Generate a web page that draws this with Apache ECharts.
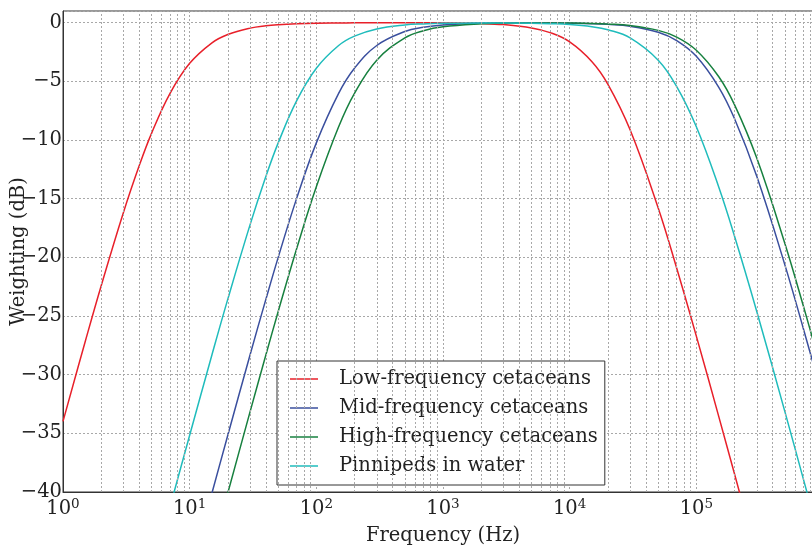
<!DOCTYPE html>
<html>
<head>
<meta charset="utf-8">
<script src="https://cdn.jsdelivr.net/npm/echarts@6/dist/echarts.min.js"></script>
<style>
  html, body { margin: 0; padding: 0; background: #fff; }
  #chart { width: 812px; height: 545px; }
</style>
</head>
<body>
<div id="chart"></div>
<script>
// frequency samples (Hz)
var freqs = [1, 1.5, 2, 3, 4, 5, 7, 10, 15, 20, 30, 40, 50, 70, 100, 150, 200, 300, 500, 700,
    1000, 2000, 3000, 5000, 7000, 10000, 15000, 20000, 30000, 50000, 70000, 100000, 150000,
    200000, 300000, 500000, 700000, 1000000];

// weighting in dB, one value per frequency above
var lowFreq = [-33.98, -27.15, -22.44, -16.18, -12.18, -9.43, -6.02, -3.46, -1.71, -1.00, -0.46,
    -0.26, -0.17, -0.09, -0.04, -0.02, -0.01, -0.01, -0.01, -0.01, -0.02, -0.07, -0.16, -0.44,
    -0.84, -1.63, -3.32, -5.23, -9.13, -15.80, -20.93, -26.71, -33.53, -38.45, -45.43, null, null, null];
var midFreq = [null, null, null, null, null, null, null, -47.08, -40.09, -35.16, -28.30, -23.56,
    -20.00, -14.95, -10.24, -6.02, -3.88, -1.94, -0.75, -0.39, -0.19, -0.05, -0.03, -0.02, -0.02,
    -0.04, -0.08, -0.14, -0.30, -0.81, -1.52, -2.86, -5.48, -8.17, -13.09, -20.64, -26.08, -32.05];
var highFreq = [null, null, null, null, null, null, null, null, -45.05, -40.09, -33.15, -28.30,
    -24.61, -19.24, -13.98, -8.87, -6.02, -3.19, -1.29, -0.68, -0.34, -0.09, -0.04, -0.02, -0.02,
    -0.03, -0.06, -0.11, -0.24, -0.65, -1.22, -2.34, -4.58, -6.98, -11.54, -18.81, -24.15, -30.07];
var pinnipeds = [null, null, null, null, null, -47.08, -41.27, -35.16, -28.30, -23.56, -17.21,
    -13.09, -10.24, -6.64, -3.88, -1.94, -1.14, -0.53, -0.19, -0.10, -0.05, -0.02, -0.02, -0.04,
    -0.08, -0.15, -0.34, -0.60, -1.29, -3.19, -5.44, -8.87, -13.98, -18.18, -24.61, -33.15, -38.90, -45.05];

var seriesNames = ['Low-frequency cetaceans', 'Mid-frequency cetaceans', 'High-frequency cetaceans', 'Pinnipeds in water'];
var seriesData = [lowFreq, midFreq, highFreq, pinnipeds];
var colors = ['#e8202a', '#3a4f9e', '#17803f', '#1fbcbc'];

var yTicks = [0, -5, -10, -15, -20, -25, -30, -35, -40];
var decades = [1, 10, 100, 1000, 10000, 100000, 1000000];

// minor vertical grid lines at 2..9 of each decade
var minorLines = [];
decades.forEach(function (d) {
    for (var k = 2; k <= 9; k++) minorLines.push({ xAxis: d * k });
});

var font = 'DejaVu Serif';
var gridLine = { color: '#a8a8a8', width: 1, type: [2, 2] };

var chart = echarts.init(document.getElementById('chart'));

var series = seriesData.map(function (vals, i) {
    return {
        name: seriesNames[i],
        type: 'line',
        data: freqs.map(function (f, j) { return [f, vals[j]]; }),
        symbol: 'none',
        smooth: 0.4,
        clip: true,
        lineStyle: { color: colors[i], width: 1.5 },
        itemStyle: { color: colors[i] },
        z: 3
    };
});
series.push({
    type: 'line',
    data: [],
    silent: true,
    markLine: {
        silent: true,
        symbol: ['none', 'none'],
        label: { show: false },
        lineStyle: gridLine,
        animation: false,
        data: minorLines
    },
    z: 1
});

chart.setOption({
    animation: false,
    color: colors,
    grid: {
        left: 63, top: 11, bottom: 53, right: -11,
        outerBoundsMode: 'none',
        containLabel: false,
        show: true, borderColor: '#333', borderWidth: 1
    },
    legend: {
        data: seriesNames,
        orient: 'vertical',
        left: 277, top: 361,
        padding: [8, 7, 9, 13],
        icon: 'rect',
        itemWidth: 28, itemHeight: 1.5, itemGap: 9,
        backgroundColor: '#fff',
        borderColor: '#333', borderWidth: 1, borderRadius: 0,
        textStyle: { fontFamily: font, fontSize: 19.5, lineHeight: 18, color: '#222', padding: [0, 0, 0, 16] }
    },
    xAxis: {
        type: 'log',
        logBase: 10,
        min: 1, max: 1000000,
        name: 'Frequency (Hz)',
        nameLocation: 'middle',
        nameGap: 34,
        nameMoveOverlap: false,
        nameTextStyle: { fontFamily: font, fontSize: 19.5, color: '#222' },
        axisLine: { onZero: false, lineStyle: { color: '#333', width: 1 } },
        axisTick: { show: false },
        axisLabel: {
            showMaxLabel: false,
            margin: 5,
            formatter: function (v) {
                return '{b|10}{s|' + Math.round(Math.log10(v)) + '}';
            },
            rich: {
                b: { fontFamily: font, fontSize: 19.5, color: '#222' },
                s: { fontFamily: font, fontSize: 13.5, color: '#222', padding: [0, 0, 9, 0] }
            }
        },
        splitLine: { show: true, lineStyle: gridLine }
    },
    yAxis: {
        type: 'value',
        min: -40, max: 1, interval: 5,
        name: 'Weighting (dB)',
        nameLocation: 'middle',
        nameGap: 34,
        nameMoveOverlap: false,
        nameTextStyle: { fontFamily: font, fontSize: 19.5, color: '#222' },
        axisLine: { show: true, onZero: false, lineStyle: { color: '#333', width: 1 } },
        axisTick: { show: false },
        axisLabel: {
            margin: 1,
            fontFamily: font, fontSize: 19.5, color: '#222',
            formatter: function (v) {
                if (yTicks.indexOf(v) < 0) return '';
                return v === 0 ? '0' : '\u2212' + Math.abs(v);
            }
        },
        splitLine: { show: true, lineStyle: gridLine }
    },
    series: series
});
</script>
</body>
</html>
